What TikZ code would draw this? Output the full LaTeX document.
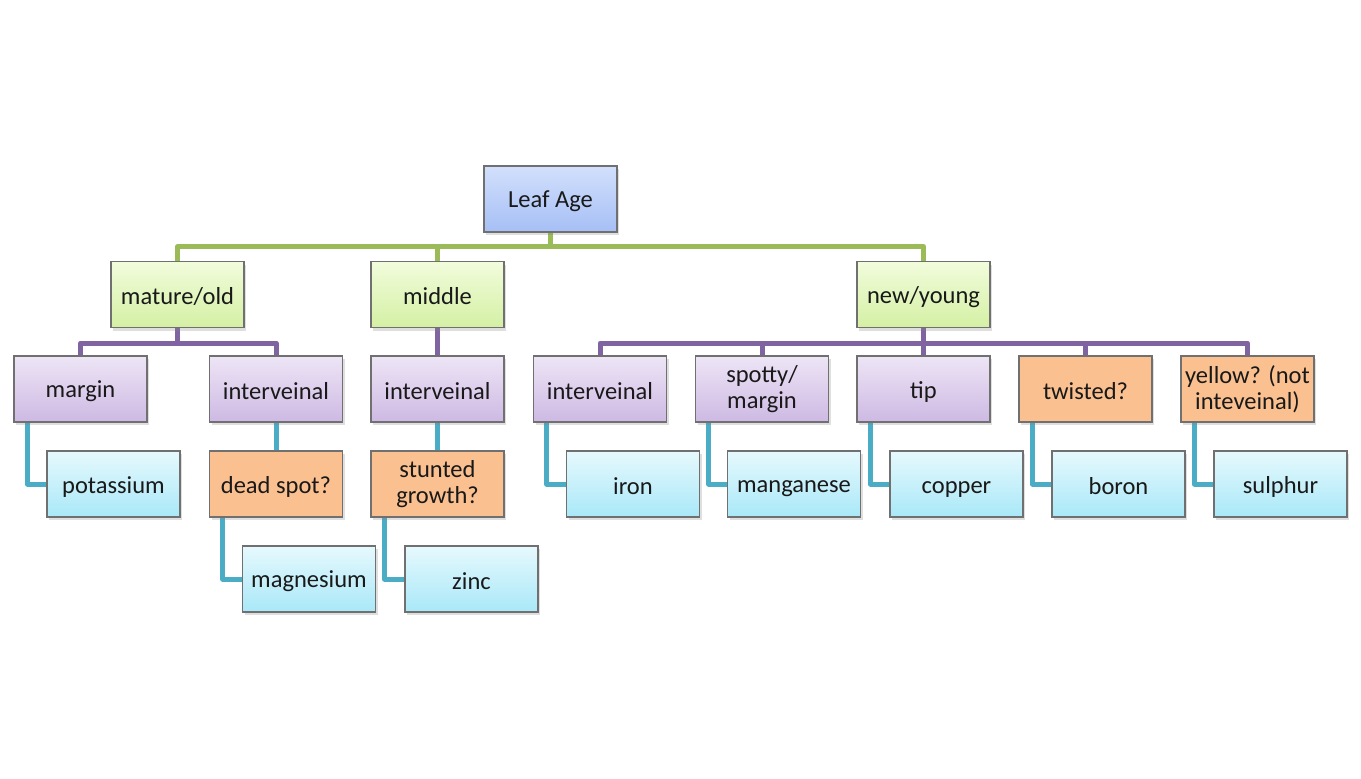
\documentclass[tikz,border=0pt]{standalone}
\usepackage{fontspec}
\setmainfont{Carlito}
\usetikzlibrary{shadows, backgrounds}

\definecolor{agetop}{HTML}{D2E0FC}
\definecolor{agebot}{HTML}{A6BFF5}
\definecolor{grntop}{HTML}{F2FCDC}
\definecolor{grnbot}{HTML}{D4F0A4}
\definecolor{purtop}{HTML}{EEE5F6}
\definecolor{purbot}{HTML}{CDB9E3}
\definecolor{cyntop}{HTML}{E6F9FD}
\definecolor{cynbot}{HTML}{A9E8F8}
\definecolor{orng}{HTML}{FAC090}
\definecolor{boxline}{HTML}{707070}
\definecolor{grnline}{HTML}{9BBB59}
\definecolor{purline}{HTML}{8064A2}
\definecolor{cynline}{HTML}{4BACC6}

\newcommand{\boxstrut}{\rule[-2pt]{0pt}{24pt}}

\tikzset{
  box/.style={rectangle, draw=boxline, line width=1.2pt, minimum width=133, minimum height=66,
    align=center, font=\fontsize{24.5}{26}\selectfont, text=black!90,
    execute at begin node=\boxstrut, execute at end node=\boxstrut,
    drop shadow={opacity=0.25, shadow xshift=2pt, shadow yshift=-3pt}},
  agebox/.style={box, top color=agetop, bottom color=agebot},
  agegroup/.style={box, top color=grntop, bottom color=grnbot},
  symptom/.style={box, top color=purtop, bottom color=purbot},
  question/.style={box, fill=orng},
  nutrient/.style={box, top color=cyntop, bottom color=cynbot},
  link/.style={line width=5pt, line join=round},
}

\begin{document}
\begin{tikzpicture}[x=1pt, y=-1pt]
\useasboundingbox (0,0) rectangle (1361,779);

% top level
\node[agebox] (age) at (550.5,199) {Leaf Age};

% leaf age groups
\node[agegroup] (mature) at (177.5,294.5) {mature/old};
\node[agegroup] (middle) at (437.5,294.5) {middle};
\node[agegroup] (young) at (923.5,294.5) {new/young};

% symptoms
\node[symptom] (margin) at (80.5,389) {margin};
\node[symptom] (intermature) at (276,389) {interveinal};
\node[symptom] (intermiddle) at (437.5,389) {interveinal};
\node[symptom] (interyoung) at (600,389) {interveinal};
\node[symptom] (spotty) at (762,389) {spotty/\\margin};
\node[symptom] (tip) at (923.5,389) {tip};
\node[question] (twisted) at (1085.5,389) {twisted?};
\node[question] (yellow) at (1247.5,389) {yellow? (not\\inteveinal)};

% second symptoms and nutrients
\node[nutrient] (potassium) at (113.5,484) {potassium};
\node[question] (deadspot) at (276,484) {dead spot?};
\node[question] (stunted) at (437.5,484) {stunted\\growth?};
\node[nutrient] (iron) at (633,484) {iron};
\node[nutrient] (manganese) at (794,484) {manganese};
\node[nutrient] (copper) at (956.5,484) {copper};
\node[nutrient] (boron) at (1118.5,484) {boron};
\node[nutrient] (sulphur) at (1280.5,484) {sulphur};
\node[nutrient] (magnesium) at (309,579) {magnesium};
\node[nutrient] (zinc) at (471.5,579) {zinc};

\begin{scope}[on background layer]
% green bus
\draw[link, grnline] (age.south) -- ++(0,14) coordinate (agebus);
\draw[link, grnline] (mature.north) |- (agebus) -| (young.north);
\draw[link, grnline] (middle.north) -- (middle.north |- agebus);

% purple buses
\draw[link, purline] (mature.south) -- ++(0,15) coordinate (maturebus);
\draw[link, purline] (margin.north) |- (maturebus) -| (intermature.north);
\draw[link, purline] (middle.south) -- (intermiddle.north);
\draw[link, purline] (young.south) -- ++(0,15) coordinate (youngbus);
\draw[link, purline] (interyoung.north) |- (youngbus) -| (yellow.north);
\foreach \n in {spotty, tip, twisted}
  \draw[link, purline] (\n.north) -- (\n.north |- youngbus);

% teal elbows
\foreach \a/\b in {margin/potassium, deadspot/magnesium, stunted/zinc, interyoung/iron,
    spotty/manganese, tip/copper, twisted/boron, yellow/sulphur}
  \draw[link, cynline] ([xshift=14]\a.south west) |- (\b.west);
\draw[link, cynline] (intermature.south) -- (deadspot.north);
\draw[link, cynline] (intermiddle.south) -- (stunted.north);
\end{scope}

\end{tikzpicture}
\end{document}
